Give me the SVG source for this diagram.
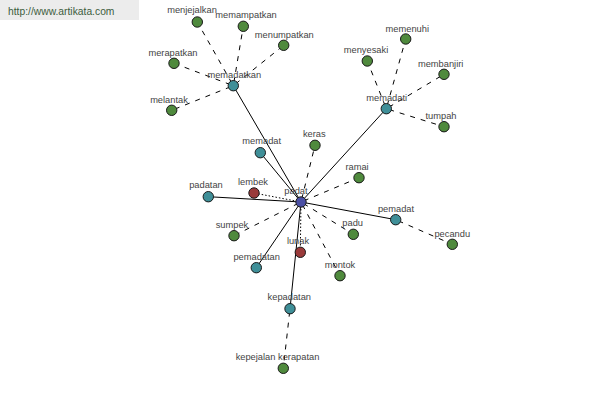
<svg xmlns="http://www.w3.org/2000/svg" width="600" height="400" viewBox="0 0 600 400">
<style>
.e{stroke:#000;stroke-width:1;fill:none}
.d{stroke-dasharray:5,6;stroke-dashoffset:-3}
.o{stroke-dasharray:1.5,2}
.n{stroke:#1a1a1a;stroke-width:1}
.g{fill:#4f8a3d}
.t{fill:#3f8f98}
.r{fill:#9a3a3a}
.b{fill:#4b50a5}
text{font-family:"Liberation Sans",Arial,sans-serif;font-size:9.3px;fill:#444;text-anchor:middle}
</style>
<rect x="0" y="0" width="139" height="20" fill="#ececec"/>
<text x="8" y="15" style="font-size:10.3px;fill:#3d5c3d;text-anchor:start">http://www.artikata.com</text>
<g id="connectors">
<line class="e" x1="301" y1="202" x2="233.3" y2="85.7"/>
<line class="e" x1="301" y1="202" x2="386.3" y2="108.7"/>
<line class="e" x1="301" y1="202" x2="260.3" y2="152.7"/>
<line class="e" x1="301" y1="202" x2="208.3" y2="196.7"/>
<line class="e" x1="301" y1="202" x2="395.7" y2="219.7"/>
<line class="e" x1="301" y1="202" x2="256.3" y2="267.7"/>
<line class="e" x1="301" y1="202" x2="290" y2="308.7"/>
<line class="e d" x1="301" y1="202" x2="315" y2="145.3"/>
<line class="e d" x1="301" y1="202" x2="359" y2="177.7"/>
<line class="e d" x1="301" y1="202" x2="234" y2="235.7"/>
<line class="e d" x1="301" y1="202" x2="353.3" y2="234.3"/>
<line class="e d" x1="301" y1="202" x2="340" y2="275.7"/>
<line class="e o" x1="301" y1="202" x2="254" y2="193"/>
<line class="e o" x1="301" y1="202" x2="300.3" y2="252.3"/>
<line class="e d" x1="233.3" y1="85.7" x2="197.3" y2="22"/>
<line class="e d" x1="233.3" y1="85.7" x2="243.3" y2="26.3"/>
<line class="e d" x1="233.3" y1="85.7" x2="283.7" y2="45.3"/>
<line class="e d" x1="233.3" y1="85.7" x2="174" y2="63.3"/>
<line class="e d" x1="233.3" y1="85.7" x2="171.7" y2="110.3"/>
<line class="e d" x1="386.3" y1="108.7" x2="405.7" y2="39"/>
<line class="e d" x1="386.3" y1="108.7" x2="367.3" y2="61"/>
<line class="e d" x1="386.3" y1="108.7" x2="444" y2="74.3"/>
<line class="e d" x1="386.3" y1="108.7" x2="444" y2="126.7"/>
<line class="e d" x1="395.7" y1="219.7" x2="452.3" y2="244.3"/>
<line class="e d" x1="290" y1="308.7" x2="283.3" y2="368.3"/>
</g>
<g id="padat"><circle class="n b" cx="301" cy="202" r="5.2"/><text x="296" y="194">padat</text></g>
<g id="memadatkan"><circle class="n t" cx="233.3" cy="85.7" r="5.2"/><text x="234.3" y="78">memadatkan</text></g>
<g id="menjejalkan"><circle class="n g" cx="197.3" cy="22" r="5.2"/><text x="192" y="13">menjejalkan</text></g>
<g id="memampatkan"><circle class="n g" cx="243.3" cy="26.3" r="5.2"/><text x="246" y="18">memampatkan</text></g>
<g id="menumpatkan"><circle class="n g" cx="283.7" cy="45.3" r="5.2"/><text x="284.3" y="37.5">menumpatkan</text></g>
<g id="merapatkan"><circle class="n g" cx="174" cy="63.3" r="5.2"/><text x="173" y="56">merapatkan</text></g>
<g id="melantak"><circle class="n g" cx="171.7" cy="110.3" r="5.2"/><text x="169" y="103">melantak</text></g>
<g id="memadati"><circle class="n t" cx="386.3" cy="108.7" r="5.2"/><text x="386.7" y="101">memadati</text></g>
<g id="memenuhi"><circle class="n g" cx="405.7" cy="39" r="5.2"/><text x="407.3" y="31.5">memenuhi</text></g>
<g id="menyesaki"><circle class="n g" cx="367.3" cy="61" r="5.2"/><text x="366" y="52.5">menyesaki</text></g>
<g id="membanjiri"><circle class="n g" cx="444" cy="74.3" r="5.2"/><text x="440.7" y="66.5">membanjiri</text></g>
<g id="tumpah"><circle class="n g" cx="444" cy="126.7" r="5.2"/><text x="441" y="119">tumpah</text></g>
<g id="memadat"><circle class="n t" cx="260.3" cy="152.7" r="5.2"/><text x="261.7" y="144.3">memadat</text></g>
<g id="keras"><circle class="n g" cx="315" cy="145.3" r="5.2"/><text x="314.3" y="137.3">keras</text></g>
<g id="ramai"><circle class="n g" cx="359" cy="177.7" r="5.2"/><text x="357" y="169.5">ramai</text></g>
<g id="padatan"><circle class="n t" cx="208.3" cy="196.7" r="5.2"/><text x="206" y="188.3">padatan</text></g>
<g id="lembek"><circle class="n r" cx="254" cy="193" r="5.2"/><text x="253" y="185.3">lembek</text></g>
<g id="sumpek"><circle class="n g" cx="234" cy="235.7" r="5.2"/><text x="232" y="227.5">sumpek</text></g>
<g id="padu"><circle class="n g" cx="353.3" cy="234.3" r="5.2"/><text x="352.7" y="226.3">padu</text></g>
<g id="lunak"><circle class="n r" cx="300.3" cy="252.3" r="5.2"/><text x="298" y="244.3">lunak</text></g>
<g id="pemadatan"><circle class="n t" cx="256.3" cy="267.7" r="5.2"/><text x="256.7" y="260">pemadatan</text></g>
<g id="montok"><circle class="n g" cx="340" cy="275.7" r="5.2"/><text x="340" y="268.3">montok</text></g>
<g id="pemadat"><circle class="n t" cx="395.7" cy="219.7" r="5.2"/><text x="396" y="211.5">pemadat</text></g>
<g id="pecandu"><circle class="n g" cx="452.3" cy="244.3" r="5.2"/><text x="452.3" y="236.5">pecandu</text></g>
<g id="kepadatan"><circle class="n t" cx="290" cy="308.7" r="5.2"/><text x="289.3" y="300">kepadatan</text></g>
<g id="kepejalan_kerapatan"><circle class="n g" cx="283.3" cy="368.3" r="5.2"/><text x="277.5" y="360">kepejalan kerapatan</text></g>
</svg>
